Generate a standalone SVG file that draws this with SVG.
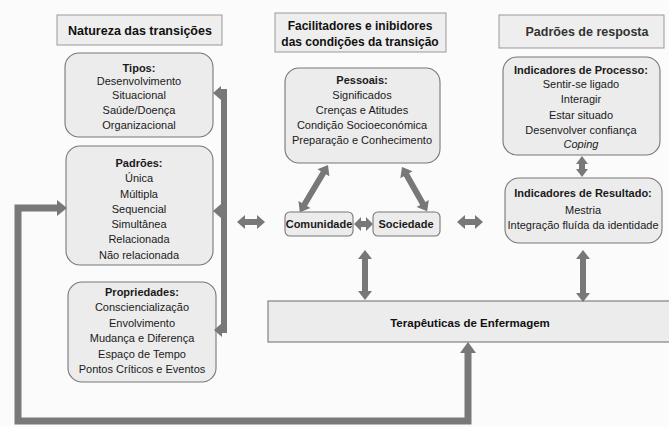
<svg xmlns="http://www.w3.org/2000/svg" width="669" height="427" viewBox="0 0 669 427">
<defs>
<style>
.hdr{fill:#eeeeee;stroke:#999;stroke-width:1}
.box{fill:#ececec;stroke:#777;stroke-width:1.1}
.t{font-family:"Liberation Sans",Arial,sans-serif;font-size:11px;fill:#1a1a1a;text-anchor:middle}
.b{font-weight:bold}
.h{font-family:"Liberation Sans",Arial,sans-serif;font-weight:bold;fill:#111;text-anchor:middle}
.ar{fill:#787878}
.ln{fill:none;stroke:#787878;stroke-width:7;stroke-linejoin:miter}
</style>
</defs>
<rect width="669" height="427" fill="#fbfbfb"/>

<g id="hdr-natureza">
<rect class="hdr" x="57" y="15" width="165" height="30"/>
<text class="h" x="140" y="35" font-size="12.5">Natureza das transições</text>
</g>
<g id="hdr-facilitadores">
<rect class="hdr" x="275" y="13" width="171" height="39"/>
<text class="h" x="360" y="30" font-size="12">Facilitadores e inibidores</text>
<text class="h" x="360" y="46" font-size="12">das condições da transição</text>
</g>
<g id="hdr-padroes-resposta">
<rect class="hdr" x="499" y="15" width="165" height="33"/>
<text class="h" x="587" y="36" font-size="12.5" style="fill:#333">Padrões de resposta</text>
</g>

<g id="tipos">
<rect class="box" x="65" y="53" width="148" height="84" rx="14"/>
<text class="t b" x="139" y="72">Tipos:</text>
<text class="t" x="139" y="85">Desenvolvimento</text>
<text class="t" x="139" y="99">Situacional</text>
<text class="t" x="139" y="114">Saúde/Doença</text>
<text class="t" x="139" y="129">Organizacional</text>
</g>
<g id="padroes">
<rect class="box" x="66" y="146" width="147" height="119" rx="14"/>
<text class="t b" x="139" y="167">Padrões:</text>
<text class="t" x="139" y="182">Única</text>
<text class="t" x="139" y="198">Múltipla</text>
<text class="t" x="139" y="213">Sequencial</text>
<text class="t" x="139" y="228">Simultânea</text>
<text class="t" x="139" y="243">Relacionada</text>
<text class="t" x="139" y="259">Não relacionada</text>
</g>
<g id="propriedades">
<rect class="box" x="68" y="282" width="148" height="100" rx="14"/>
<text class="t b" x="142" y="296">Propriedades:</text>
<text class="t" x="142" y="311">Consciencialização</text>
<text class="t" x="142" y="327">Envolvimento</text>
<text class="t" x="142" y="342">Mudança e Diferença</text>
<text class="t" x="142" y="358">Espaço de Tempo</text>
<text class="t" x="142" y="373">Pontos Críticos e Eventos</text>
</g>

<g id="pessoais">
<rect class="box" x="285" y="68" width="155" height="95" rx="14"/>
<text class="t b" x="362" y="84">Pessoais:</text>
<text class="t" x="362" y="99">Significados</text>
<text class="t" x="362" y="114">Crenças e Atitudes</text>
<text class="t" x="362" y="129">Condição Socioeconómica</text>
<text class="t" x="362" y="144">Preparação e Conhecimento</text>
</g>
<g id="comunidade">
<rect class="box" x="285" y="212" width="68" height="24" rx="5"/>
<text class="t b" x="319" y="228" font-size="10.5">Comunidade</text>
</g>
<g id="sociedade">
<rect class="box" x="373" y="212" width="67" height="24" rx="5"/>
<text class="t b" x="406" y="228" font-size="10.5">Sociedade</text>
</g>

<g id="processo">
<rect class="box" x="503" y="57" width="157" height="98" rx="14"/>
<text class="t b" x="581" y="74">Indicadores de Processo:</text>
<text class="t" x="581" y="88">Sentir-se ligado</text>
<text class="t" x="581" y="103">Interagir</text>
<text class="t" x="581" y="119">Estar situado</text>
<text class="t" x="581" y="134">Desenvolver confiança</text>
<text class="t" x="581" y="148" font-style="italic">Coping</text>
</g>
<g id="resultado">
<rect class="box" x="505" y="178" width="157" height="65" rx="14"/>
<text class="t b" x="583" y="197">Indicadores de Resultado:</text>
<text class="t" x="583" y="214">Mestria</text>
<text class="t" x="583" y="229">Integração fluída da identidade</text>
</g>

<g id="terapeuticas">
<rect class="box" x="268" y="301" width="405" height="41"/>
<text class="h" x="470" y="327" font-size="11.5">Terapêuticas de Enfermagem</text>
</g>

<g id="connectors">
<!-- right bar of left column -->
<rect class="ar" x="221" y="89" width="6" height="244"/>
<polygon class="ar" points="213,93 221,86 221,100"/>
<rect class="ar" x="220" y="90" width="4" height="6"/>
<polygon class="ar" points="213,211 221,204 221,218"/>
<polygon class="ar" points="214,330 222,323 222,337"/>
<rect class="ar" x="221" y="327" width="6" height="6"/>
<!-- feedback loop -->
<path class="ln" d="M58 208 L18 208 L18 421 L468 421 L468 351"/>
<polygon class="ar" points="67,208 57,200 57,216"/>
<polygon class="ar" points="468,342 460,353 476,353"/>
<!-- horizontal double arrows -->
<polygon class="ar" points="237,222 245,215 245,219 257,219 257,215 265,222 257,229 257,225 245,225 245,229"/>
<polygon class="ar" points="457,222 465,215 465,219 475,219 475,215 483,222 475,229 475,225 465,225 465,229"/>
<polygon class="ar" points="354,224 361,217 361,221 366,221 366,217 373,224 366,231 366,227 361,227 361,231"/>
<!-- vertical double arrows -->
<polygon class="ar" points="365,250 372,259 368,259 368,291 372,291 365,300 358,291 362,291 362,259 358,259"/>
<polygon class="ar" points="583,250 590,259 586,259 586,293 590,293 583,302 576,293 580,293 580,259 576,259"/>
<polygon class="ar" points="582,156 588,164 585,164 585,169 588,169 582,177 576,169 579,169 579,164 576,164"/>
<!-- diagonals -->
<polygon class="ar" transform="translate(328,165) rotate(120.8)" points="0,0 9,-7 9,-3 46,-3 46,-7 55,0 46,7 46,3 9,3 9,7"/>
<polygon class="ar" transform="translate(402,167) rotate(60.4)" points="0,0 9,-7 9,-3 42,-3 42,-7 51,0 42,7 42,3 9,3 9,7"/>
</g>
</svg>
